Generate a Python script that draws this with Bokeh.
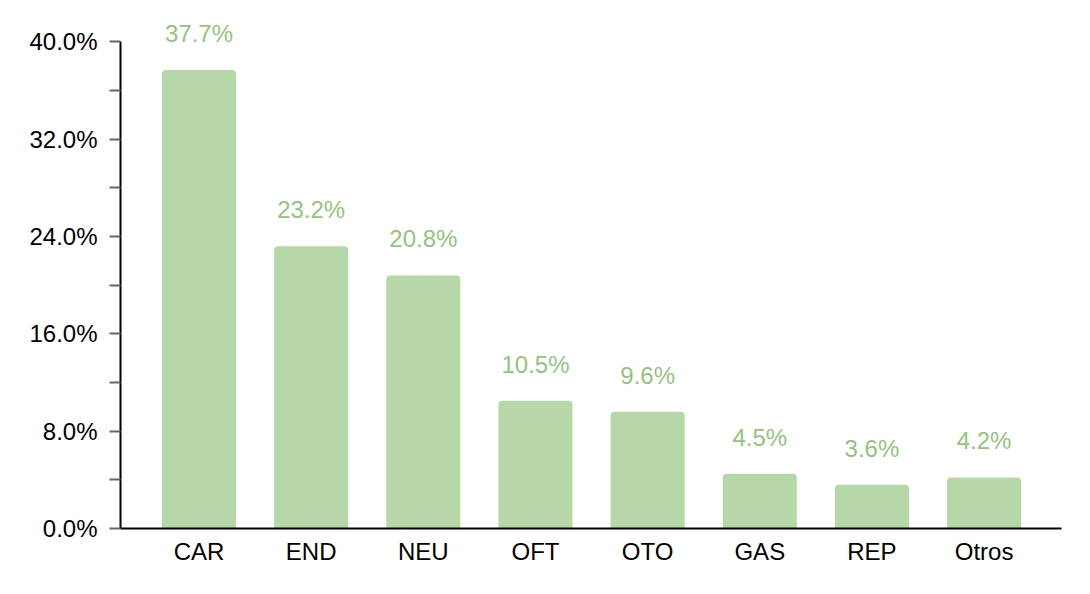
from bokeh.plotting import figure
from bokeh.models import ColumnDataSource, FixedTicker, PrintfTickFormatter, LabelSet, Range1d
from bokeh.core.properties import value
from bokeh.embed import file_html
from bokeh.resources import INLINE

categories = ["CAR", "END", "NEU", "OFT", "OTO", "GAS", "REP", "Otros"]
values = [37.7, 23.2, 20.8, 10.5, 9.6, 4.5, 3.6, 4.2]
y_major = [0, 8, 16, 24, 32, 40]
y_minor = [4, 12, 20, 28, 36]

FONT = "Liberation Sans"
xs = list(range(len(categories)))
src = ColumnDataSource(dict(x=xs, top=values, label=[f"{v:.1f}%" for v in values]))

p = figure(width=1082, height=586, output_backend="svg", toolbar_location=None,
           x_range=Range1d(-0.7, len(categories) - 0.31), y_range=Range1d(0, 42.5),
           min_border_left=120, min_border_right=21, min_border_top=11, min_border_bottom=58)
p.outline_line_color = None
p.xgrid.visible = False
p.ygrid.visible = False

p.vbar(x="x", top="top", width=0.66, bottom=0, source=src, fill_color="#b6d7a8",
       line_color=None, border_radius=(4, 4, 0, 0))

labels = LabelSet(x="x", y="top", text="label", source=src, y_offset=28,
                  text_align="center", text_baseline="alphabetic",
                  text_color="#93c47d", text_font=value(FONT), text_font_size="24px")
p.add_layout(labels)

ya = p.yaxis[0]
ya.bounds = (0, 40)
ya.ticker = FixedTicker(ticks=y_major, minor_ticks=y_minor)
ya.formatter = PrintfTickFormatter(format="%.1f%%")
ya.axis_line_color = "black"
ya.axis_line_width = 2
ya.major_tick_in = 0
ya.major_tick_out = 11
ya.minor_tick_in = 0
ya.minor_tick_out = 11
ya.major_tick_line_color = "#666666"
ya.minor_tick_line_color = "#666666"
ya.major_tick_line_width = 2
ya.minor_tick_line_width = 2
ya.major_label_standoff = 12
ya.major_label_text_font = FONT
ya.major_label_text_font_size = "24px"
ya.major_label_text_color = "black"

xa = p.xaxis[0]
xa.ticker = FixedTicker(ticks=xs)
xa.major_label_overrides = {i: c for i, c in enumerate(categories)}
xa.axis_line_color = "black"
xa.axis_line_width = 2
xa.major_tick_in = 0
xa.major_tick_out = 0
xa.minor_tick_line_color = None
xa.major_label_standoff = 9
xa.major_label_text_font = FONT
xa.major_label_text_font_size = "24px"
xa.major_label_text_color = "black"

open("out.html", "w").write(file_html(p, INLINE))
